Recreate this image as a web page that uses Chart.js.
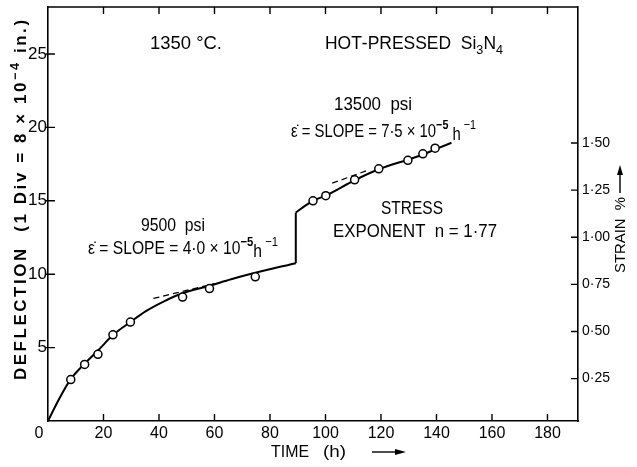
<!DOCTYPE html>
<html><head><meta charset="utf-8">
<style>html,body{margin:0;padding:0;background:#fff}#wrap{width:637px;height:467px;position:relative}</style>
<script src="https://cdn.jsdelivr.net/npm/chart.js@4/dist/chart.umd.min.js"></script>
</head><body><div id="wrap"><canvas id="c" width="637" height="467"></canvas></div>
<script>
// ---- data ----
const timeTicks = [0, 20, 40, 60, 80, 100, 120, 140, 160, 180];
const deflTicks = [5, 10, 15, 20, 25];
const strainTicks = [0.25, 0.5, 0.75, 1.0, 1.25, 1.5];
const strainTickLabels = ['0·25', '0·50', '0·75', '1·00', '1·25', '1·50'];

const obsTime = [8.2, 13.2, 18.0, 23.4, 29.7, 48.5, 58.2, 74.7, 95.5, 100.1, 110.5, 119.2, 129.7, 135.1, 139.5];
const obsDefl = [2.82, 3.85, 4.54, 5.87, 6.74, 8.44, 9.02, 9.82, 15.0, 15.35, 16.43, 17.18, 17.76, 18.2, 18.58];

const curve1Time = [0, 4, 8.2, 13.2, 18.2, 23.4, 29.7, 35, 42, 48.5, 58, 66, 74.7, 89.3];
const curve1Defl = [0, 1.5, 2.85, 3.9, 4.84, 5.85, 6.74, 7.45, 8.17, 8.7, 9.2, 9.65, 10.1, 10.75];
const jumpTime = [89.3, 89.3];
const jumpDefl = [10.75, 14.2];
const curve2Time = [89.3, 93, 95.5, 100.1, 110.5, 119.2, 129.7, 135.1, 139.5, 145.4];
const curve2Defl = [14.2, 14.7, 15.0, 15.35, 16.4, 17.15, 17.8, 18.15, 18.5, 18.95];
const dash1Time = [38, 60];
const dash1Defl = [8.35, 9.35];
const dash2Time = [102.4, 115.6];
const dash2Defl = [16.2, 17.1];

const zip = (xs, ys) => xs.map((x, i) => ({x: x, y: ys[i]}));

const FONT = '"Liberation Sans", Arial, sans-serif';

// runs: [text, kind, weight]; kind: 'n' | 'sup' | 'sub' | 'low'
// Text is stretched horizontally so that it spans x0..x1, centred vertically on y.
function drawFit(ctx, runs, x0, x1, y, size, ls) {
  ls = ls || 0;
  ctx.save();
  const small = Math.round(size * 0.72);
  let w = 0;
  const parts = runs.map(r => {
    const fs = r[1] === 'n' || r[1] === 'low' ? size : small;
    const font = (r[2] || '') + fs + 'px ' + FONT;
    ctx.font = font;
    const chars = Array.from(r[0]).map(ch => ({ch: ch, w: ctx.measureText(ch).width}));
    let pw = 0;
    chars.forEach(c => { pw += c.w + ls; });
    w += pw;
    return {k: r[1], font: font, chars: chars, w: pw};
  });
  w -= ls;
  const sx = (x1 - x0) / w;
  ctx.translate(x0, y);
  ctx.scale(sx, 1);
  ctx.textBaseline = 'alphabetic';
  ctx.textAlign = 'left';
  ctx.fillStyle = '#000';
  let cx = 0;
  parts.forEach(p => {
    ctx.font = p.font;
    let dy = 0;
    if (p.k === 'sup') dy = -size * 0.45;
    if (p.k === 'sub') dy = size * 0.25;
    if (p.k === 'low') dy = size * 0.12;
    p.chars.forEach(c => {
      ctx.fillText(c.ch, cx, size * 0.36 + dy);
      cx += c.w + ls;
    });
  });
  ctx.restore();
}

const decor = {
  id: 'decor',
  afterDraw(chart) {
    const ctx = chart.ctx;
    const xs = chart.scales.x, ys = chart.scales.y, y2 = chart.scales.y2;
    const a = chart.chartArea;
    ctx.save();
    ctx.strokeStyle = '#000';
    ctx.fillStyle = '#000';
    ctx.lineWidth = 1.6;
    // frame top
    ctx.beginPath();
    ctx.moveTo(a.left, a.top); ctx.lineTo(a.right, a.top);
    ctx.stroke();
    // inward ticks
    ctx.lineWidth = 1.4;
    ctx.beginPath();
    timeTicks.forEach(t => {
      if (t === 0) return;
      const px = xs.getPixelForValue(t);
      ctx.moveTo(px, a.bottom); ctx.lineTo(px, a.bottom - 7);
      ctx.moveTo(px, a.top); ctx.lineTo(px, a.top + 7);
    });
    deflTicks.forEach(v => {
      const py = ys.getPixelForValue(v);
      ctx.moveTo(a.left - 2, py); ctx.lineTo(a.left + 7, py);
    });
    strainTicks.forEach(v => {
      const py = y2.getPixelForValue(v);
      ctx.moveTo(a.right - 7, py); ctx.lineTo(a.right, py);
    });
    ctx.stroke();

    // tick labels
    ctx.textBaseline = 'middle';
    ctx.font = '16px ' + FONT;
    ctx.textAlign = 'center';
    timeTicks.forEach(t => {
      const px = t === 0 ? xs.getPixelForValue(t) - 9 : xs.getPixelForValue(t);
      ctx.fillText(String(t), px, a.bottom + 13);
    });
    ctx.textAlign = 'right';
    ctx.font = '17px ' + FONT;
    deflTicks.forEach(v => {
      ctx.fillText(String(v), a.left - 1, ys.getPixelForValue(v));
    });
    ctx.textAlign = 'left';
    ctx.font = '14px ' + FONT;
    strainTicks.forEach((v, i) => {
      ctx.fillText(strainTickLabels[i], a.right + 4, y2.getPixelForValue(v));
    });

    // x title
    drawFit(ctx, [['TIME', 'n']], 271, 309, 451, 16);
    drawFit(ctx, [['(h)', 'n']], 323, 346, 451, 16);
    ctx.lineWidth = 1.4;
    ctx.beginPath(); ctx.moveTo(372, 452); ctx.lineTo(398, 452); ctx.stroke();
    ctx.beginPath(); ctx.moveTo(406, 452); ctx.lineTo(395, 449); ctx.lineTo(395, 455); ctx.closePath(); ctx.fill();

    // left title (rotated)
    ctx.save();
    ctx.translate(20, 0);
    ctx.rotate(-Math.PI / 2);
    drawFit(ctx, [['DEFLECTION  (1 Div = 8 × 10', 'n', 'bold '], ['−4', 'sup', 'bold '], [' in.)', 'n', 'bold ']], -380, -20, 0, 16, 2.5);
    ctx.restore();

    // right title (rotated)
    ctx.save();
    ctx.translate(620, 0);
    ctx.rotate(-Math.PI / 2);
    drawFit(ctx, [['STRAIN  %', 'n']], -273, -197, 0, 15);
    ctx.restore();
    ctx.beginPath(); ctx.moveTo(620, 193); ctx.lineTo(620, 172); ctx.stroke();
    ctx.beginPath(); ctx.moveTo(620, 165); ctx.lineTo(617, 175); ctx.lineTo(623, 175); ctx.closePath(); ctx.fill();

    // annotations
    drawFit(ctx, [['1350 °C.', 'n']], 150, 222, 43, 18);
    drawFit(ctx, [['HOT-PRESSED  Si', 'n'], ['3', 'sub'], ['N', 'n'], ['4', 'sub']], 325, 503, 43, 18);
    drawFit(ctx, [['13500  psi', 'n']], 334, 412, 104, 18);
    drawFit(ctx, [['ε̇ = SLOPE = 7·5 × 10', 'n'], ['−5', 'sup', 'bold '], [' h', 'low'], [' −1', 'sup']], 291, 476, 131, 18);
    drawFit(ctx, [['9500  psi', 'n']], 141, 205, 225, 18);
    drawFit(ctx, [['ε̇ = SLOPE = 4·0 × 10', 'n'], ['−5', 'sup', 'bold '], ['h', 'low'], [' −1', 'sup']], 88, 278, 248, 18);
    drawFit(ctx, [['STRESS', 'n']], 381, 443, 208, 18);
    drawFit(ctx, [['EXPONENT  n = 1·77', 'n']], 333, 497, 231, 18);
    ctx.restore();
  }
};

const lineDs = (xs, ys, dash) => ({
  data: zip(xs, ys),
  showLine: true,
  borderColor: '#000',
  borderWidth: dash ? 1.3 : 2,
  borderDash: dash ? [6, 4] : [],
  pointRadius: 0,
  fill: false,
  cubicInterpolationMode: 'monotone',
  order: 1,
  yAxisID: 'y'
});

new Chart(document.getElementById('c'), {
  type: 'scatter',
  data: {
    datasets: [
      {
        data: zip(obsTime, obsDefl),
        pointStyle: 'circle',
        pointRadius: 4,
        pointBackgroundColor: '#fff',
        pointBorderColor: '#000',
        pointBorderWidth: 1.5,
        showLine: false,
        order: 0,
        yAxisID: 'y'
      },
      lineDs(curve1Time, curve1Defl, false),
      lineDs(jumpTime, jumpDefl, false),
      lineDs(curve2Time, curve2Defl, false),
      lineDs(dash1Time, dash1Defl, true),
      lineDs(dash2Time, dash2Defl, true)
    ]
  },
  options: {
    responsive: false,
    animation: false,
    devicePixelRatio: 1,
    layout: {padding: {top: 7, left: 0, right: 0, bottom: 0}},
    plugins: {legend: {display: false}, tooltip: {enabled: false}},
    scales: {
      x: {
        type: 'linear', min: 0, max: 191,
        grid: {display: false},
        border: {display: true, color: '#000', width: 1.6},
        ticks: {display: false},
        afterFit(s) { s.height = 46; }
      },
      y: {
        type: 'linear', position: 'left', min: 0, max: 28.2,
        grid: {display: false},
        border: {display: true, color: '#000', width: 1.6},
        ticks: {display: false},
        afterFit(s) { s.width = 48; }
      },
      y2: {
        type: 'linear', position: 'right', min: 0.025, max: 2.222,
        grid: {display: false},
        border: {display: true, color: '#000', width: 1.6},
        ticks: {display: false},
        afterFit(s) { s.width = 59; }
      }
    }
  },
  plugins: [decor]
});
</script>
</body></html>
